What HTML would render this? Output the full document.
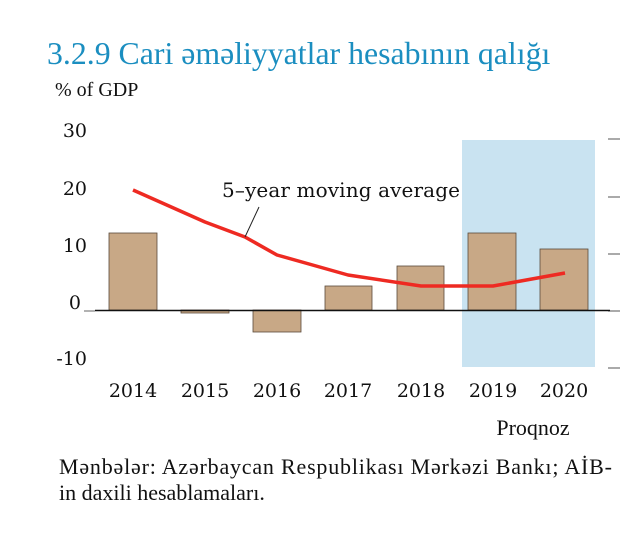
<!DOCTYPE html>
<html><head><meta charset="utf-8"><style>
html,body{margin:0;padding:0;background:#fff;}
body{width:620px;height:559px;overflow:hidden;position:relative;}
</style></head><body>
<svg width="620" height="559" xmlns="http://www.w3.org/2000/svg" style="position:absolute;left:0;top:0">
<text x="47" y="64" font-family="Liberation Serif, serif" font-size="31.8" fill="#1b8ec0">3.2.9  Cari əməliyyatlar hesabının qalığı</text>
<text x="55" y="96" font-family="Liberation Serif, serif" font-size="20" fill="#111">% of GDP</text>
<rect x="462" y="140" width="133" height="227" fill="#c9e3f1"/>
<g font-family="DejaVu Serif, serif" font-size="19" fill="#111" text-anchor="end">
<text x="87" y="137">30</text>
<text x="87" y="195">20</text>
<text x="87" y="252">10</text>
<text x="81" y="309">0</text>
<text x="87" y="365">-10</text>
</g>
<line x1="84" y1="311" x2="95" y2="311" stroke="#666" stroke-width="1"/>
<g stroke="#555" stroke-width="1">
<line x1="608" y1="139" x2="620" y2="139"/>
<line x1="608" y1="197" x2="620" y2="197"/>
<line x1="608" y1="254" x2="620" y2="254"/>
<line x1="608" y1="311" x2="620" y2="311"/>
<line x1="608" y1="368" x2="620" y2="368"/>
</g>
<g fill="#c8a886" stroke="#5a4a3a" stroke-width="0.8">
<rect x="109" y="233" width="48" height="77"/>
<rect x="181" y="310" width="48" height="3"/>
<rect x="253" y="310" width="48" height="22"/>
<rect x="325" y="286" width="47" height="24"/>
<rect x="397" y="266" width="47" height="44"/>
<rect x="468" y="233" width="48" height="77"/>
<rect x="540" y="249" width="48" height="61"/>
</g>
<line x1="95" y1="310.5" x2="610" y2="310.5" stroke="#111" stroke-width="1.5"/>
<polyline points="133,190 205,222 245,237 277,255 348,275 421,286 493,286 565,273" fill="none" stroke="#ee2a22" stroke-width="3.5" stroke-linejoin="round"/>
<line x1="259" y1="207" x2="245" y2="237" stroke="#222" stroke-width="1"/>
<text x="222" y="197" font-family="DejaVu Serif, serif" font-size="20" fill="#111" textLength="238">5–year moving average</text>
<g font-family="DejaVu Serif, serif" font-size="19" fill="#111" text-anchor="middle">
<text x="133" y="397">2014</text>
<text x="205" y="397">2015</text>
<text x="277" y="397">2016</text>
<text x="348" y="397">2017</text>
<text x="421" y="397">2018</text>
<text x="493" y="397">2019</text>
<text x="564" y="397">2020</text>
</g>
<text x="533" y="435" font-family="Liberation Serif, serif" font-size="22" fill="#111" text-anchor="middle">Proqnoz</text>
<text x="59" y="474" font-family="Liberation Serif, serif" font-size="22" fill="#111" textLength="553">Mənbələr: Azərbaycan Respublikası Mərkəzi Bankı; AİB-</text>
<text x="59" y="500" font-family="Liberation Serif, serif" font-size="22" fill="#111">in daxili hesablamaları.</text>
</svg>
</body></html>
